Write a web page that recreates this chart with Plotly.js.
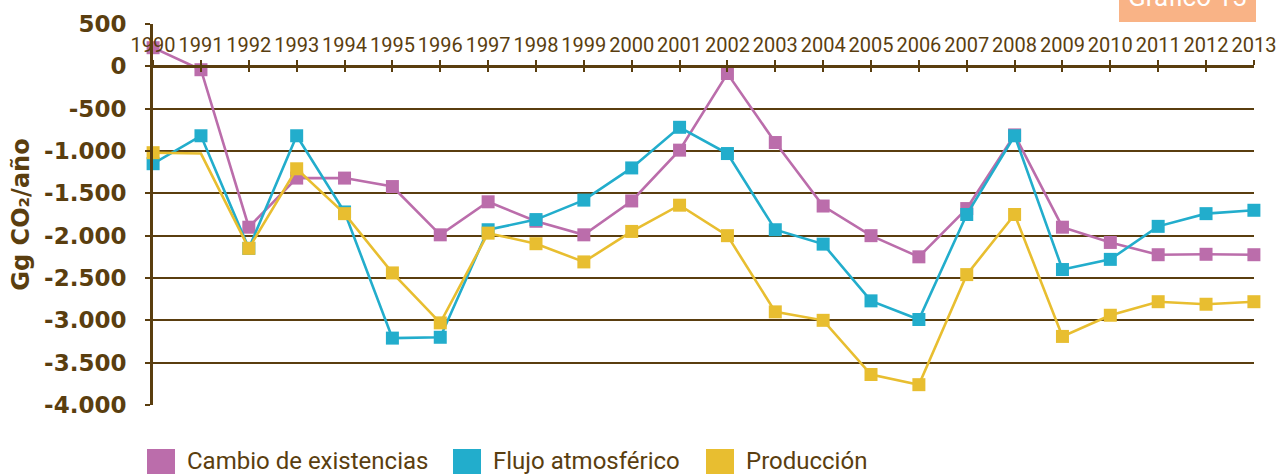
<!DOCTYPE html>
<html>
<head>
<meta charset="utf-8">
<script src="https://cdn.plot.ly/plotly-3.0.1.min.js"></script>
<style>html,body{margin:0;padding:0;background:#fff;}#chart{width:1276px;height:474px;}</style>
</head>
<body>
<div id="chart"></div>
<script>
const years = [1990,1991,1992,1993,1994,1995,1996,1997,1998,1999,2000,2001,2002,2003,2004,2005,2006,2007,2008,2009,2010,2011,2012,2013];
const seriesNames = ["Cambio de existencias", "Flujo atmosférico", "Producción"];
const cambioExistencias = [220,-40,-1900,-1320,-1320,-1420,-1990,-1600,-1830,-1990,-1590,-990,-85,-900,-1650,-2000,-2250,-1680,-810,-1900,-2080,-2225,-2220,-2225];
const flujoAtmosferico = [-1150,-820,-2150,-820,-1720,-3210,-3200,-1930,-1810,-1580,-1200,-720,-1030,-1930,-2100,-2770,-2990,-1750,-820,-2400,-2280,-1890,-1740,-1700];
const produccion = [-1020,-1030,-2150,-1210,-1740,-2440,-3030,-1970,-2095,-2310,-1950,-1640,-2000,-2900,-3000,-3640,-3760,-2460,-1750,-3190,-2940,-2780,-2810,-2780];
const yTickVals = [500,0,-500,-1000,-1500,-2000,-2500,-3000,-3500,-4000];
const yTickText = ["500","0","-500","-1.000","-1.500","-2.000","-2.500","-3.000","-3.500","-4.000"];
const yAxisTitle = "Gg CO₂/año";
const chartTag = "Gráfico 15";

const colors = ["#BB6DAB", "#22ADCC", "#E8BE30"];
const brown = "#5A3E0F";
const W = 1276, H = 474;
const M = {l:153, r:22, t:24, b:69};
const yMin = -4000, yMax = 500;
const px2x = p => (p - M.l) / (W - M.l - M.r);
const px2y = p => (H - M.b - p) / (H - M.t - M.b);

const allSeries = [cambioExistencias, flujoAtmosferico, produccion];
const traces = allSeries.map((vals, i) => ({
  type: 'scatter', mode: 'lines+markers', name: seriesNames[i],
  x: years, y: vals, showlegend: false, cliponaxis: false,
  line: {color: colors[i], width: 2.6},
  marker: {symbol: 'square', color: colors[i], opacity: 1, line: {width: 0},
    size: (i === 2) ? years.map(y => y === 1991 ? 0 : 13) : 13}
}));
// dummy trace for the second (tick) axis
traces.push({type:'scatter', x:[years[0]], y:[0], xaxis:'x2', mode:'markers', marker:{size:0, opacity:0}, showlegend:false, hoverinfo:'skip'});

const zeroPos = (0 - yMin) / (yMax - yMin);
const xRange = [years[0] - 0.002, years[years.length-1] + 0.002];

const shapes = [];
const annotations = [];
// manual legend
const legX = [147, 453, 706];
seriesNames.forEach((n, i) => {
  shapes.push({type:'rect', xref:'paper', yref:'paper', x0:px2x(legX[i]), x1:px2x(legX[i]+28), y0:px2y(478), y1:px2y(449), fillcolor:colors[i], line:{width:0}});
  annotations.push({xref:'paper', yref:'paper', x:px2x(legX[i]+38), y:px2y(461), xanchor:'left', yanchor:'middle', text:n, showarrow:false, font:{family:'Roboto', size:24, color:brown}});
});
// chart tag
shapes.push({type:'rect', xref:'paper', yref:'paper', x0:px2x(1119), x1:px2x(1256), y0:px2y(22), y1:px2y(-5), fillcolor:'#F9B386', line:{width:0}});
annotations.push({xref:'paper', yref:'paper', x:px2x(1187), y:px2y(14), xanchor:'center', yanchor:'bottom', text:chartTag, showarrow:false, font:{family:'Roboto', size:26, color:'#ffffff'}});

const layout = {
  width: W, height: H,
  margin: M,
  paper_bgcolor: '#fff', plot_bgcolor: '#fff',
  showlegend: false,
  xaxis: {
    range: xRange, tickvals: years, ticktext: years.map(String),
    anchor: 'free', position: zeroPos, side: 'top',
    showgrid: false, zeroline: false,
    showline: true, linecolor: brown, linewidth: 2.5,
    ticks: 'outside', ticklen: 5, tickwidth: 2, tickcolor: brown,
    ticklabeloverflow: 'allow',
    tickangle: 0, tickfont: {family: 'Roboto', size: 20, color: brown}
  },
  xaxis2: {
    range: xRange, tickvals: years,
    overlaying: 'x', anchor: 'free', position: zeroPos, side: 'top',
    showgrid: false, zeroline: false, showline: false,
    ticks: 'inside', ticklen: 5, tickwidth: 2, tickcolor: brown,
    showticklabels: false
  },
  yaxis: {
    range: [yMin, yMax], tickvals: yTickVals, ticktext: yTickText,
    showgrid: true, gridcolor: brown, gridwidth: 2, zeroline: false,
    showline: true, linecolor: brown, linewidth: 3,
    ticks: 'outside', ticklen: 5, tickwidth: 2, tickcolor: brown,
    ticklabelstandoff: 14,
    tickfont: {family: 'DejaVu Sans', size: 23, weight: 'bold', color: brown},
    title: {text: yAxisTitle, font: {family: 'DejaVu Sans', size: 24, weight: 'bold', color: brown}, standoff: 8}
  },
  shapes: shapes, annotations: annotations
};

Plotly.newPlot('chart', traces, layout, {displayModeBar: false, staticPlot: true});
</script>
</body>
</html>
